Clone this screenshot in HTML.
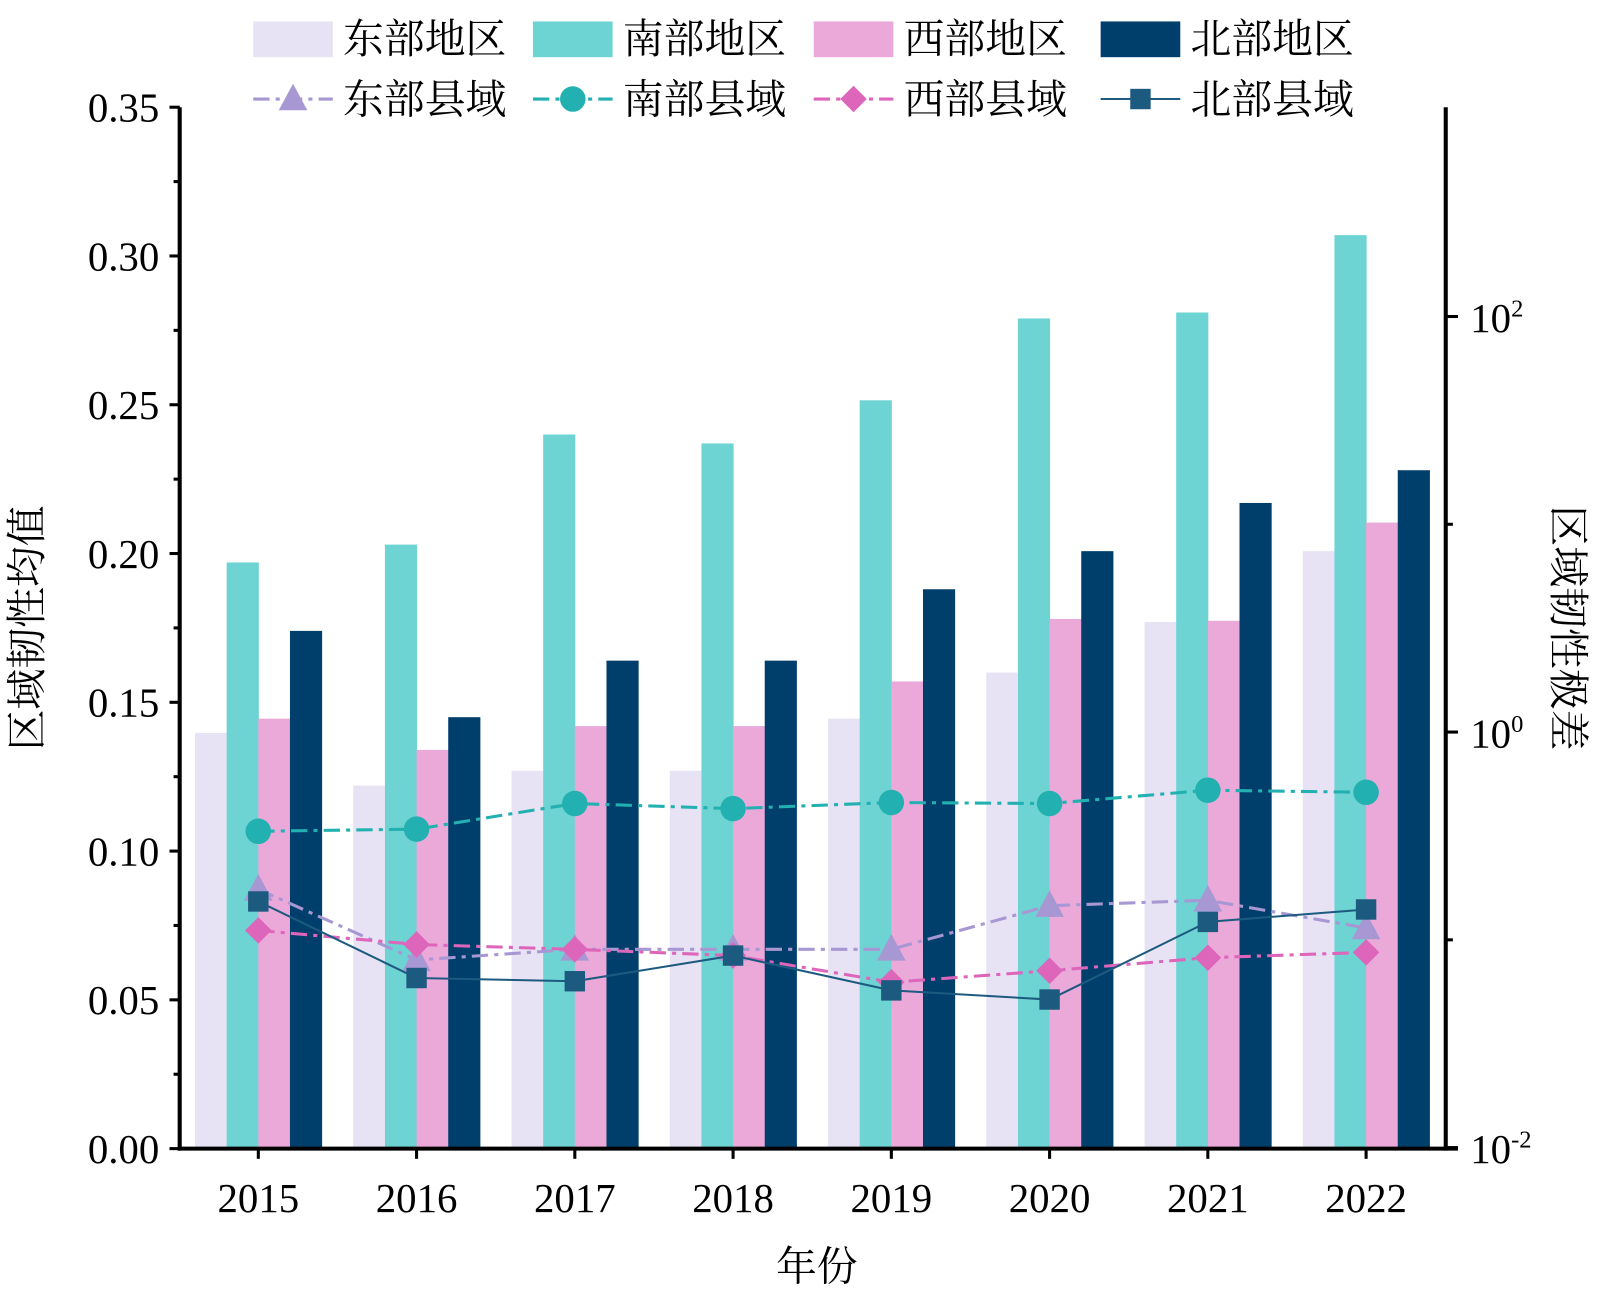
<!DOCTYPE html>
<html><head><meta charset="utf-8"><style>
body{margin:0;background:#fff}
svg text{font-family:"Liberation Serif","Noto Serif CJK SC","Noto Sans CJK SC",serif;fill:#000}
</style></head><body>
<svg id="chart" width="1600" height="1293" viewBox="0 0 1600 1293" xmlns="http://www.w3.org/2000/svg">
<g transform="scale(1.021)">
<g id="bars"></g>
<g id="lines"></g>
<g id="axes"></g>
<g id="legend"></g>
</g>
</svg>
<script>
const years = ["2015","2016","2017","2018","2019","2020","2021","2022"];
const eastRegion = [0.1397,0.122,0.127,0.127,0.1445,0.160,0.177,0.2008];
const southRegion = [0.197,0.203,0.240,0.237,0.2515,0.279,0.281,0.307];
const westRegion = [0.1445,0.134,0.142,0.142,0.157,0.178,0.1774,0.2104];
const northRegion = [0.174,0.145,0.164,0.164,0.188,0.2008,0.217,0.228];
const eastCounty = [0.175,0.080,0.090,0.090,0.090,0.146,0.155,0.114];
const southCounty = [0.333,0.341,0.453,0.428,0.458,0.453,0.525,0.513];
const westCounty = [0.111,0.095,0.090,0.084,0.0625,0.071,0.082,0.087];
const northCounty = [0.153,0.0655,0.0632,0.084,0.0571,0.0516,0.122,0.140];
const leftTicks = ["0.00","0.05","0.10","0.15","0.20","0.25","0.30","0.35"];

const NS="http://www.w3.org/2000/svg";
const L=176,R=1416,T=105,B=1125;
const FS=40;
const yL=v=>B-(v/0.35)*(B-T);
const yR=v=>717-Math.log10(v)*203.5;
const xC=i=>253+i*155;
function mk(p,tag,a){const e=document.createElementNS(NS,tag);for(const k in a)e.setAttribute(k,a[k]);p.appendChild(e);return e;}
const gb=document.getElementById('bars'),gl=document.getElementById('lines'),ga=document.getElementById('axes'),gg=document.getElementById('legend');

const barSeries=[[eastRegion,"#e8e3f4","east-region-bar"],[southRegion,"#6dd3d3","south-region-bar"],[westRegion,"#eba9d9","west-region-bar"],[northRegion,"#003f6b","north-region-bar"]];
barSeries.forEach((s,si)=>{s[0].forEach((v,i)=>{
 const r=mk(gb,'rect',{x:xC(i)-62+si*31,y:yL(v),width:31.5,height:B-yL(v),fill:s[1]});
 
 
});});

function marker(p,type,x,y,c){
 let e;
 if(type==='tri') e=mk(p,'polygon',{points:`${x},${y-15} ${x-14},${y+11} ${x+14},${y+11}`,fill:c});
 else if(type==='circ') e=mk(p,'circle',{cx:x,cy:y,r:12.5,fill:c});
 else if(type==='dia') e=mk(p,'polygon',{points:`${x},${y-13} ${x+13},${y} ${x},${y+13} ${x-13},${y}`,fill:c});
 else e=mk(p,'rect',{x:x-10,y:y-10,width:20,height:20,fill:c});
 return e;
}
const lineSeries=[[eastCounty,"#a797d2","tri","16 6 4 6",3,"east-county"],[southCounty,"#22b0b0","circ","16 6 4 6",3,"south-county"],[westCounty,"#dd66bb","dia","16 6 4 6",3,"west-county"],[northCounty,"#1d5a80","sq","",2,"north-county"]];
lineSeries.forEach(s=>{
 const pts=s[0].map((v,i)=>xC(i)+','+yR(v)).join(' ');
 const pl=mk(gl,'polyline',{points:pts,fill:'none',stroke:s[1],'stroke-width':s[4],'stroke-dasharray':s[3]});
 
 
 s[0].forEach((v,i)=>{const m=marker(gl,s[2],xC(i),yR(v),s[1]);
  
  });
});

mk(ga,'line',{x1:L,y1:T,x2:L,y2:B+2,stroke:'#000','stroke-width':4});
mk(ga,'line',{x1:R,y1:T,x2:R,y2:B+2,stroke:'#000','stroke-width':4});
mk(ga,'line',{x1:L-2,y1:B,x2:R+12,y2:B,stroke:'#000','stroke-width':4});
leftTicks.forEach((t,i)=>{const v=i*0.05,y=yL(v);
 mk(ga,'line',{x1:L-10,y1:y,x2:L,y2:y,stroke:'#000','stroke-width':3});
 const tx=mk(ga,'text',{x:L-20,y:y+14,'text-anchor':'end','font-size':FS});tx.textContent=t;
 
 if(i<7){const ym=yL(v+0.025);mk(ga,'line',{x1:L-6,y1:ym,x2:L,y2:ym,stroke:'#000','stroke-width':3});}
});
[-2,-1,0,1,2].forEach(e=>{const y=yR(Math.pow(10,e));const maj=e%2===0;
 mk(ga,'line',{x1:R,y1:y,x2:R+(maj?12:7),y2:y,stroke:'#000','stroke-width':3});
 if(maj){const tx=mk(ga,'text',{x:R+24,y:y+15,'font-size':FS});tx.textContent='10';
  const s=mk(tx,'tspan',{dy:-15,'font-size':24});s.textContent=String(e);
  }
});
years.forEach((y,i)=>{mk(ga,'line',{x1:xC(i),y1:B,x2:xC(i),y2:B+10,stroke:'#000','stroke-width':3});
 const tx=mk(ga,'text',{x:xC(i),y:1187,'text-anchor':'middle','font-size':FS});tx.textContent=y;
 });
let t=mk(ga,'text',{x:800,y:1254,'text-anchor':'middle','font-size':FS});t.textContent='年份';

t=mk(ga,'text',{x:0,y:0,'text-anchor':'middle','font-size':FS,transform:'translate(40,615) rotate(-90)'});t.textContent='区域韧性均值';

t=mk(ga,'text',{x:0,y:0,'text-anchor':'middle','font-size':FS,transform:'translate(1522,615) rotate(90)'});t.textContent='区域韧性极差';


const lx=[248,522,797,1078];
const barNames=["东部地区","南部地区","西部地区","北部地区"];
const lineNames=["东部县域","南部县域","西部县域","北部县域"];
barSeries.forEach((s,i)=>{
 const r=mk(gg,'rect',{x:lx[i],y:21,width:78,height:35,fill:s[1]});
 
 const tx=mk(gg,'text',{x:lx[i]+88,y:52,'font-size':FS});tx.textContent=barNames[i];
 
});
lineSeries.forEach((s,i)=>{
 mk(gg,'line',{x1:lx[i],y1:97,x2:lx[i]+78,y2:97,stroke:s[1],'stroke-width':s[4],'stroke-dasharray':s[3]});
 const m=marker(gg,s[2],lx[i]+39,97,s[1]);
 
 const tx=mk(gg,'text',{x:lx[i]+88,y:111,'font-size':FS});tx.textContent=lineNames[i];
 
});
</script>
</body></html>
